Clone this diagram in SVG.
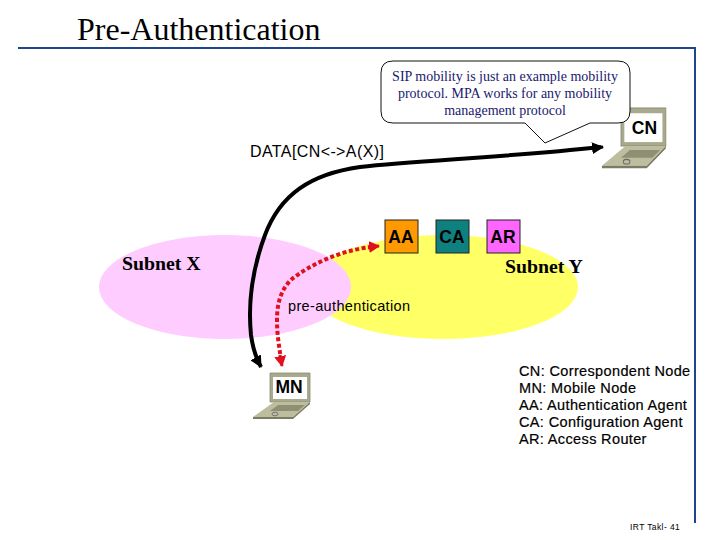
<svg xmlns="http://www.w3.org/2000/svg" width="720" height="540" viewBox="0 0 720 540">
<style>
.s{font-family:"Liberation Sans",Arial,sans-serif;fill:#000}
.r{font-family:"Liberation Serif","Times New Roman",serif;fill:#000}
.box{stroke:#222;stroke-width:1}
.lab{font-size:17.5px;font-weight:bold;text-anchor:middle;font-family:"Liberation Sans",Arial,sans-serif}
.note{font-family:"Liberation Serif",serif;font-size:14px;fill:#1a1a6e;text-anchor:middle}
.key{font-size:14.5px;font-family:"Liberation Sans",Arial,sans-serif;letter-spacing:.36px;stroke:#000;stroke-width:.2}
</style>
<defs>
<g id="laptop">
<path d="M0 0H40V29H0Z" fill="#a9a98e" stroke="#8c8c72" stroke-width=".8"/>
<path d="M4 29H40L23 44H-17Z" fill="#bdbda0"/>
<path d="M-17 44H23L40 29V31L23 46H-17Z" fill="#7c7c64"/>
<path d="M8 32H35L28 38H0Z" fill="#8f8f74"/>
<rect x="3" y="4" width="34" height="22" fill="#fff"/>
<ellipse cx="5" cy="41" rx="3" ry="1.8" fill="none" stroke="#666" stroke-width=".8"/>
</g>
<marker id="bk" markerUnits="userSpaceOnUse" markerWidth="14" markerHeight="12" refX="11" refY="6" orient="auto"><path d="M0 0L12 6 0 12Z" fill="#000"/></marker>
<marker id="rd" markerUnits="userSpaceOnUse" markerWidth="14" markerHeight="14" refX="10" refY="6" orient="auto"><path d="M0 0L11 6 0 12Z" fill="#e0101c"/></marker>
</defs>

<g id="title">
<text class="r" x="77" y="40" font-size="32">Pre-Authentication</text>
<path d="M18 48H695V523" fill="none" stroke="#1f4590" stroke-width="2"/>
</g>

<g id="subnet-y"><ellipse cx="443" cy="287" rx="135" ry="52" fill="#ffff66"/></g>
<g id="subnet-x"><ellipse cx="225" cy="287" rx="126" ry="52" fill="#ffccff"/></g>
<text class="r" x="122" y="270" font-size="19.8" font-weight="bold">Subnet X</text>
<text class="r" x="505" y="273" font-size="19.8" font-weight="bold">Subnet Y</text>

<g id="MN">
<use href="#laptop" x="270" y="373"/>
<text class="lab" x="289" y="393">MN</text>
</g>

<g id="AA"><rect class="box" x="385" y="220" width="33" height="33" fill="#ff9900"/><text class="lab" x="401" y="243">AA</text></g>
<g id="CA"><rect class="box" x="436" y="220" width="33" height="33" fill="#0f8080"/><text class="lab" x="452" y="243">CA</text></g>
<g id="AR"><rect class="box" x="487" y="220" width="33" height="33" fill="#ff66ff"/><text class="lab" x="503" y="243">AR</text></g>

<g id="CN">
<use href="#laptop" transform="translate(621 108) scale(1.12 1.31)"/>
</g>

<g id="connectors" fill="none">
<path d="M601 147C500 158 420 160 360 167C310 174 280 195 265 235C252 270 248 305 251 335C253 350 256 358 261 367" stroke="#000" stroke-width="4" marker-end="url(#bk)"/>
<path d="M594 148L603 147" stroke="#000" stroke-width="3" marker-end="url(#bk)"/>
<path d="M372 247C340 250 310 265 292 279C280 290 277 305 277 320C277 335 279 345 281 360" stroke="#e0101c" stroke-width="4" stroke-dasharray="4 2.5"/>
<path d="M368 247L379 246" stroke="#e0101c" stroke-width="3" marker-end="url(#rd)"/>
<path d="M280 355L282 366" stroke="#e0101c" stroke-width="3" marker-end="url(#rd)"/>
</g>

<text class="s" x="250" y="157" font-size="16" letter-spacing=".4">DATA[CN&lt;-&gt;A(X)]</text>
<text class="s" x="288" y="311" font-size="14.5" letter-spacing=".35">pre-authentication</text>

<g id="callout">
<path d="M393 61H618Q630 61 630 73V111Q630 123 618 123H590L545 143 525 123H393Q381 123 381 111V73Q381 61 393 61Z" fill="#fff" stroke="#111" stroke-width="1"/>
<text class="note" x="505" y="81">SIP mobility is just an example mobility</text>
<text class="note" x="505" y="98">protocol. MPA works for any mobility</text>
<text class="note" x="505" y="115">management protocol</text>
</g>

<text class="lab" x="644.5" y="134">CN</text>

<g id="legend">
<text class="key" x="519" y="376">CN: Correspondent Node</text>
<text class="key" x="519" y="393">MN: Mobile Node</text>
<text class="key" x="519" y="410">AA: Authentication Agent</text>
<text class="key" x="519" y="427">CA: Configuration Agent</text>
<text class="key" x="519" y="444">AR: Access Router</text>
</g>
<text class="s" x="630" y="530" font-size="8.5" letter-spacing=".4">IRT Takl- 41</text>
</svg>
